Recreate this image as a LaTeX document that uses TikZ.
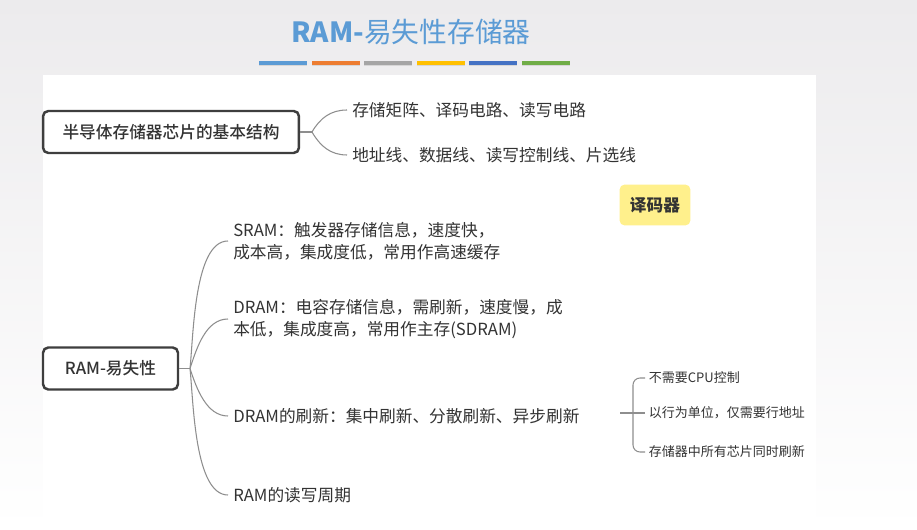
\documentclass[tikz,border=0pt]{standalone}
\usepackage{fontspec}
\setmainfont{Noto Sans CJK SC}
\newfontfamily\medfont{Noto Sans CJK SC Medium}
\usepackage{xcolor}
\usetikzlibrary{positioning,calc}
\definecolor{mmtext}{HTML}{333333}
\definecolor{mmline}{HTML}{8E8E8E}
\definecolor{mmbox}{HTML}{3E3E3E}
\definecolor{mmtitle}{HTML}{5B9BD5}
\definecolor{mmnote}{HTML}{FFF08C}
\definecolor{mmbg}{HTML}{ECEBED}
\definecolor{barblue}{HTML}{5B9BD5}
\definecolor{barorange}{HTML}{ED7D31}
\definecolor{bargray}{HTML}{A5A5A5}
\definecolor{baryellow}{HTML}{FFC000}
\definecolor{bardblue}{HTML}{4472C4}
\definecolor{bargreen}{HTML}{70AD47}
\tikzset{
  rootbox/.style={draw=mmbox, line width=1.4pt, rounded corners=3pt, fill=white,
    minimum height=0.84cm, inner sep=0pt, font=\medfont\fontsize{9.5}{12}\selectfont, text=mmtext},
  leaf/.style={anchor=west, inner ysep=0pt, inner xsep=2.8pt, align=left,
    font=\fontsize{9.5}{12.5}\selectfont, text=mmtext},
  smallleaf/.style={anchor=west, inner ysep=0pt, inner xsep=2pt,
    font=\fontsize{7.4}{9}\selectfont, text=mmtext},
  branch/.style={draw=mmline, line width=0.6pt},
  notebox/.style={fill=mmnote, rounded corners=3pt, minimum width=1.42cm, minimum height=0.82cm,
    font=\bfseries\fontsize{9.5}{12}\selectfont, text=mmtext},
}

\begin{document}
\begin{tikzpicture}[x=0.02cm, y=-0.02cm]
  \useasboundingbox (0,0) rectangle (917,530);
  \pgfmathsetmacro{\bw}{48}
  \pgfmathsetmacro{\pitch}{52.6}
  % Background and panel
  \fill[top color=mmbg, bottom color=white] (0,0) rectangle (917,530);
  \fill[white] (43,75) rectangle (816,530);
  % Title
  \node[font=\fontsize{15.8}{18}\selectfont, text=mmtitle] (title) at (411,32)
    {{\bfseries RAM-}易失性存储器};
  % Colour bars
  \foreach \c [count=\i] in {barblue, barorange, bargray, baryellow, bardblue, bargreen}{
    \fill[black!16] (259+\i*\pitch-\pitch, 62.5) rectangle ++(\bw, 4);
    \fill[\c] (259+\i*\pitch-\pitch, 61) rectangle ++(\bw, 4);
  }
  % Chip structure
  \node[rootbox, minimum width=5.12cm] (chip) at (171,132) {半导体存储器芯片的基本结构};
  \node[leaf] (matrix) at (347,110) {存储矩阵、译码电路、读写电路};
  \node[leaf] (lines) at (347,155) {地址线、数据线、读写控制线、片选线};
  \coordinate (hubA) at (312,132);
  \draw[branch] (chip.east) -- (hubA);
  \draw[branch] (hubA) to[out=60, in=180] (matrix.west);
  \draw[branch] (hubA) to[out=-60, in=180] (lines.west);
  % Sticky note
  \node[notebox] (decoder) at (655,205) {译码器};
  % RAM
  \node[rootbox, minimum width=2.7cm] (ram) at (110.5,368.5) {RAM-易失性};
  \node[leaf] (sram) at (228,241) {SRAM：触发器存储信息，速度快，\\成本高，集成度低，常用作高速缓存};
  \node[leaf] (dram) at (228,319) {DRAM：电容存储信息，需刷新，速度慢，成\\本低，集成度高，常用作主存(SDRAM)};
  \node[leaf] (refresh) at (228,416) {DRAM的刷新：集中刷新、分散刷新、异步刷新};
  \node[leaf] (cycle) at (228,495) {RAM的读写周期};
  \coordinate (hubB) at (190,368.5);
  \draw[branch] (ram.east) -- (hubB);
  \foreach \leafname/\ang/\loose in {sram/84/0.65, dram/72/0.9, refresh/-72/0.9, cycle/-84/0.65}{
    \draw[branch] (hubB) to[out=\ang, in=180, looseness=\loose] (\leafname.west);
  }
  % Refresh notes
  \node[smallleaf] (nocpu) at (645,378) {不需要CPU控制};
  \node[smallleaf] (rowaddr) at (645,413) {以行为单位，仅需要行地址};
  \node[smallleaf] (allchip) at (645,452) {存储器中所有芯片同时刷新};
  \coordinate (rstart) at (620,413);
  \coordinate (rhub) at (633,413);
  \draw[branch] (rstart) -- (rowaddr.west);
  \draw[branch, rounded corners=4pt] (nocpu.west) -| (rhub) |- (allchip.west);
\end{tikzpicture}
\end{document}
